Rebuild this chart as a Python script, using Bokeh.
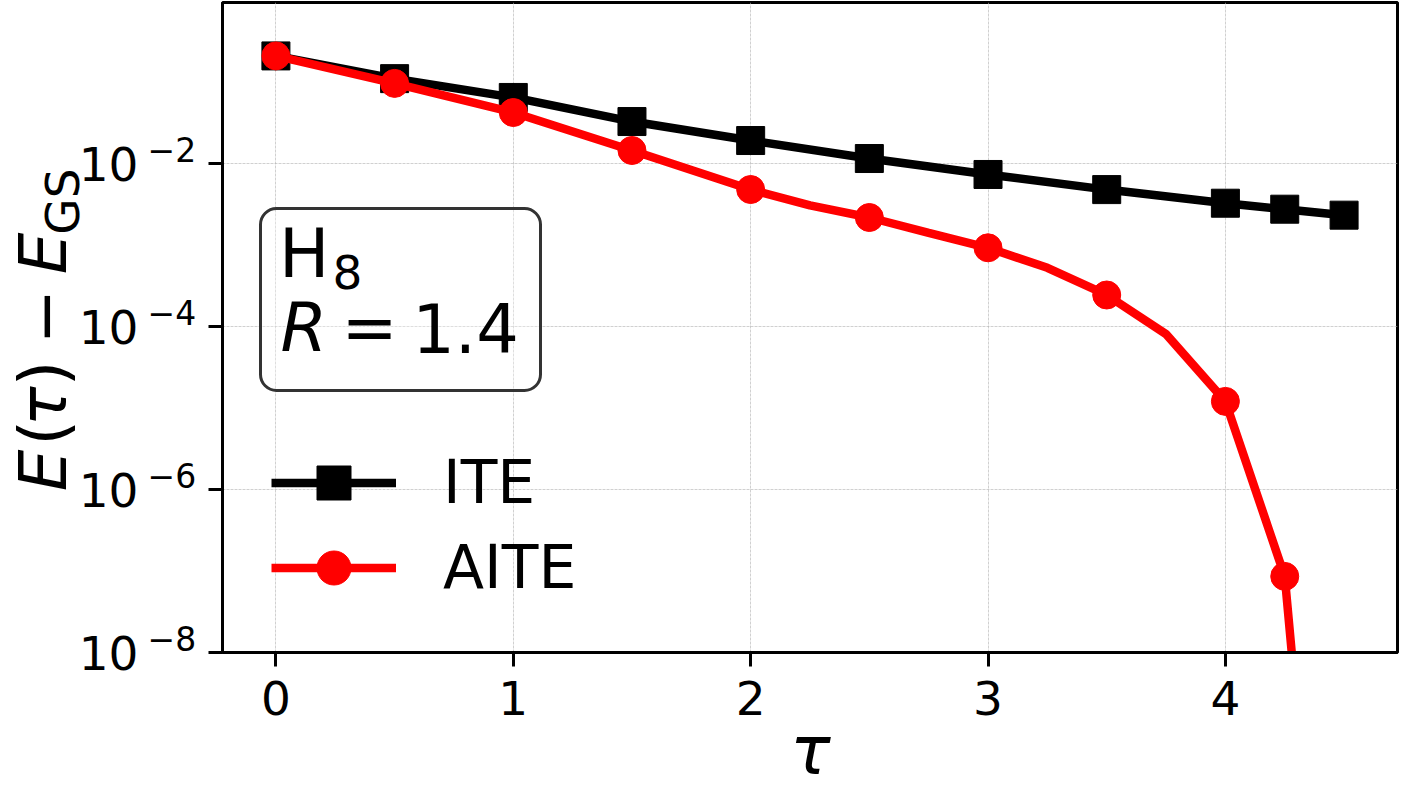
import math

from bokeh.embed import file_html
from bokeh.layouts import column, row
from bokeh.models import (BoxAnnotation, CustomJSTickFormatter, FixedTicker,
                          Label, Legend, LegendItem, Range1d)
from bokeh.plotting import figure
from bokeh.resources import INLINE

# Energy error vs imaginary time for H8 at R = 1.4
tau_ite = [0.0, 0.5, 1.0, 1.5, 2.0, 2.5, 3.0, 3.5, 4.0, 4.25, 4.5]
e_ite = [0.211, 0.111, 0.0652, 0.0330, 0.0193, 0.0116, 0.00739, 0.00482,
         0.00328, 0.00277, 0.00234]

tau_aite = [0.0, 0.5, 1.0, 1.5, 2.0, 2.25, 2.5, 2.75, 3.0, 3.25, 3.5, 3.75,
            4.0, 4.25, 4.5]
e_aite = [0.211, 0.097, 0.0426, 0.01456, 0.00483, 0.00308, 0.00219, 0.00142,
          0.00093, 0.000528, 0.000245, 8.1e-5, 1.21e-5, 8.6e-8, 1e-15]
tau_aite_marked = [0.0, 0.5, 1.0, 1.5, 2.0, 2.5, 3.0, 3.5, 4.0, 4.25]

x_ticks = [0, 1, 2, 3, 4]
y_ticks = [1e-8, 1e-6, 1e-4, 1e-2]

# page geometry (pixels from the top-left of the page)
W, H = 1401, 793
LEFT, RIGHT, TOP, BOTTOM = 222, 1397, 2, 652
WL = 202            # width of the strip holding the y tick labels and title
HM = 672            # height of the main plot canvas (frame plus tick marks)
X_LO, X_HI = -0.225, 4.725
Y_LO, Y_HI = 1e-8, 10 ** -0.02
FONT = "DejaVu Sans"
BASE_SHIFT = 0.39   # lifts a label so its glyph baseline sits on the anchor

LOG_LO, LOG_HI = math.log10(Y_LO), math.log10(Y_HI)
PX_PER_DEC = (BOTTOM - TOP) / (LOG_HI - LOG_LO)
PX_PER_TAU = (RIGHT - LEFT) / (X_HI - X_LO)


def data_x(sx):
    return X_LO + (sx - LEFT) / PX_PER_TAU


def data_y(sy):
    return 10 ** (LOG_LO + (BOTTOM - sy) / PX_PER_DEC)


def text_label(text, x, y, size, style="normal", align="left", angle=0.0,
               dx=0, dy=0):
    lift = BASE_SHIFT * size
    dx -= lift * math.sin(angle)
    dy += lift * math.cos(angle)
    return Label(x=x, y=y, x_offset=dx, y_offset=dy, text=text,
                 text_font=FONT, text_font_size=f"{size}px",
                 text_font_style=style, text_color="black",
                 text_align=align, text_baseline="alphabetic", angle=angle)


def bare_figure(width, height, x_range, y_range, **kw):
    f = figure(width=width, height=height, output_backend="svg",
               toolbar_location=None, x_range=x_range, y_range=y_range,
               x_axis_location=None, y_axis_location=None,
               min_border=0, outline_line_color=None, **kw)
    f.background_fill_color = "white"
    f.border_fill_color = "white"
    f.xgrid.visible = False
    f.ygrid.visible = False
    return f


# ---------------- main plot ----------------
p = figure(width=W - WL, height=HM, output_backend="svg", toolbar_location=None,
           x_range=Range1d(X_LO, X_HI), y_range=Range1d(Y_LO, Y_HI),
           y_axis_type="log",
           min_border_left=LEFT - WL, min_border_right=W - RIGHT,
           min_border_top=TOP, min_border_bottom=HM - BOTTOM)
p.background_fill_color = "white"
p.border_fill_color = "white"
p.outline_line_color = "black"
p.outline_line_width = 3
p.outline_line_alpha = 1.0

for ax in (p.xaxis, p.yaxis):
    ax.axis_line_width = 3
    ax.axis_line_color = "black"
    ax.major_tick_line_width = 3
    ax.major_tick_line_color = "black"
    ax.major_tick_out = 14
    ax.major_tick_in = 0
    ax.minor_tick_line_color = None
    ax.formatter = CustomJSTickFormatter(code="return ''")
    ax.major_label_text_font_size = "1px"
    ax.major_label_standoff = 0

p.xaxis.ticker = FixedTicker(ticks=x_ticks)
p.yaxis.ticker = FixedTicker(ticks=y_ticks)

p.grid.grid_line_color = "#b0b0b0"
p.grid.grid_line_alpha = 0.6
p.grid.grid_line_width = 1
p.grid.grid_line_dash = "3 1"

l_ite = p.line(tau_ite, e_ite, line_color="black", line_width=8.5)
m_ite = p.scatter(tau_ite, e_ite, marker="square", size=28,
                  fill_color="black", line_color="black")

lookup = dict(zip(tau_aite, e_aite))
l_aite = p.line(tau_aite, e_aite, line_color="#ff0000", line_width=8.5)
m_aite = p.scatter(tau_aite_marked, [lookup[t] for t in tau_aite_marked],
                   marker="circle", size=28, fill_color="#ff0000",
                   line_color="#ff0000")

legend = Legend(items=[LegendItem(label="ITE", renderers=[l_ite, m_ite]),
                       LegendItem(label="AITE", renderers=[l_aite, m_aite])],
                location=(271 - LEFT, BOTTOM - 609.5),
                padding=0, margin=0, spacing=0,
                glyph_width=125, glyph_height=85, label_height=85,
                label_standoff=47,
                label_text_font=FONT, label_text_font_size="60px",
                label_text_color="black",
                border_line_color=None, background_fill_alpha=0)
p.add_layout(legend)

# system / bond-length box
p.add_layout(BoxAnnotation(left=data_x(260), right=data_x(540),
                           top=data_y(208), bottom=data_y(390),
                           fill_color="white", fill_alpha=0.3,
                           line_color="#333333", line_alpha=1.0, line_width=3,
                           border_radius=16))


def put_main(text, sx, sy, size, **kw):
    p.add_layout(text_label(text, X_LO, Y_LO, size,
                            dx=sx - LEFT, dy=BOTTOM - sy, **kw))


put_main("H", 278.5, 280, 67)
put_main("8", 347, 290, 47, align="center")
put_main("R", 280, 354, 67, style="italic")
put_main("=", 369, 354, 67, align="center")
put_main("1.4", 465, 354, 67, align="center")

# ---------------- left strip: y tick labels and y title ----------------
ext_lo = 10 ** (LOG_LO - (H - BOTTOM) / PX_PER_DEC)
ext_hi = 10 ** (LOG_HI + TOP / PX_PER_DEC)
ls = bare_figure(WL, H, Range1d(0, WL), Range1d(ext_lo, ext_hi),
                 y_axis_type="log")

for v in y_ticks:
    exp = int(round(math.log10(v)))
    ls.add_layout(text_label("10", 138, v, 47, align="right", dy=-19))
    ls.add_layout(text_label("\u2212" + str(abs(exp)), 147, v, 33, dy=1.6))

rot = math.pi / 2
title_parts = [("E", 69, 470, 66, "italic"),
               ("(", 69, 432.5, 66, "normal"),
               ("\u03c4", 69, 406, 66, "italic"),
               (")", 69, 373, 66, "normal"),
               ("\u2212", 69, 316, 66, "normal"),
               ("E", 69, 253, 66, "italic"),
               ("GS", 80, 201, 47, "normal")]
for txt, sx, sy, size, style in title_parts:
    ls.add_layout(text_label(txt, sx, data_y(sy), size, style=style,
                             align="center", angle=rot))

# ---------------- bottom strip: x tick labels and x title ----------------
# its frame spans the same columns as the main plot, on the same tau scale
bs = bare_figure(W - WL, H - HM, Range1d(X_LO, X_HI), Range1d(0, H - HM))
bs.min_border_left = LEFT - WL
bs.min_border_right = W - RIGHT
for t in x_ticks:
    bs.add_layout(text_label(str(t), t, H - 716, 47, align="center"))
bs.add_layout(text_label("\u03c4", data_x(810), H - 777, 67, style="italic",
                         align="center"))

page = row(ls, column(p, bs, spacing=0), spacing=0)
open("out.html", "w").write(file_html(page, INLINE))
